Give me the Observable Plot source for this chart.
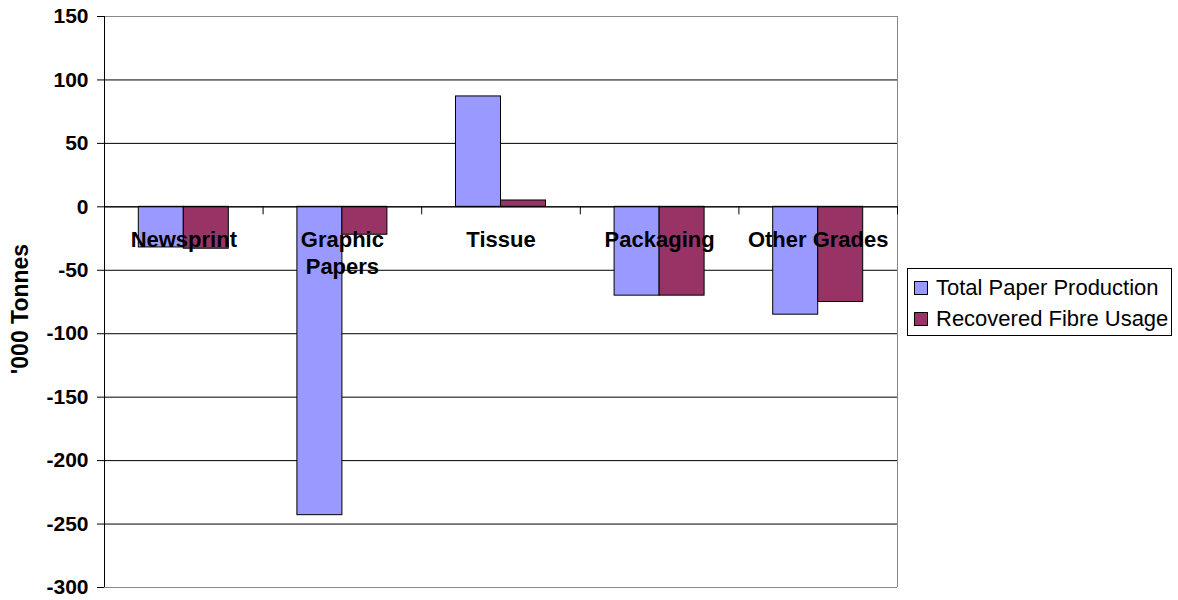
<!DOCTYPE html>
<html>
<head>
<meta charset="utf-8">
<script src="https://cdn.jsdelivr.net/npm/d3@7"></script>
<script src="https://cdn.jsdelivr.net/npm/@observablehq/plot@0.6"></script>
<style>
  body { margin: 0; background: #fff; font-family: "Liberation Sans", Arial, sans-serif; }
  #wrap { position: relative; width: 1178px; height: 600px; }
  #legend {
    position: absolute; left: 907px; top: 268px; width: 265px; height: 68px;
    border: 1px solid #000; box-sizing: border-box; background: #fff;
    font-size: 22px; color: #000; padding: 3px 0 0 6px;
  }
  .item { display: flex; align-items: center; height: 31px; white-space: nowrap; }
  .sw { width: 14px; height: 14px; border: 1px solid #000; margin-right: 8px; box-sizing: border-box; }
</style>
</head>
<body>
<div id="wrap"><div id="legend"></div></div>
<script>
// Change by paper grade, thousand tonnes
const categories = ["Newsprint", "Graphic\nPapers", "Tissue", "Packaging", "Other Grades"];
const seriesNames = ["Total Paper Production", "Recovered Fibre Usage"];
const totalProduction = [-32, -243, 87, -70, -85];
const recoveredFibre = [-33, -22, 5, -70, -75];
const yTicks = [150, 100, 50, 0, -50, -100, -150, -200, -250, -300];
const yLabel = "'000 Tonnes";
const colors = ["#9999FF", "#993366"];

const rows = categories.flatMap((c, i) => [
  {cat: c, idx: i, series: seriesNames[0], value: totalProduction[i]},
  {cat: c, idx: i, series: seriesNames[1], value: recoveredFibre[i]}
]);

const font = "Liberation Sans, Arial, sans-serif";
const bandPx = (1178 - 104 - 281) / categories.length;
const barPx = 45;
const edge = (bandPx - 2 * barPx) / 2;

// one rect per category band, inset to place the two series side by side
const bars = (s, left, right) => Plot.rectY(rows.filter(d => d.series === s), {
  x1: "idx", x2: d => d.idx + 1, y1: 0, y2: "value",
  fill: colors[seriesNames.indexOf(s)], stroke: "#000", strokeWidth: 1,
  insetLeft: left, insetRight: right
});

const chart = Plot.plot({
  width: 1178,
  height: 600,
  marginLeft: 104,
  marginRight: 281,
  marginTop: 16,
  marginBottom: 13,
  style: {fontFamily: font, background: "transparent"},
  x: {domain: [0, categories.length], axis: null},
  y: {domain: [-300, 150]},
  marks: [
    Plot.ruleY(yTicks.filter(v => v !== 150 && v !== -300), {stroke: "#000", strokeWidth: 1}),
    Plot.ruleY([150, -300], {stroke: "#888", strokeWidth: 1}),
    Plot.ruleX([categories.length], {stroke: "#888", strokeWidth: 1}),
    bars(seriesNames[0], edge, edge + barPx),
    bars(seriesNames[1], edge + barPx, edge),
    Plot.ruleY([0], {stroke: "#000", strokeWidth: 1}),
    Plot.ruleX(d3.range(categories.length + 1), {y1: 0, y2: 0, insetBottom: -8, stroke: "#000"}),
    Plot.ruleX([0], {stroke: "#000", strokeWidth: 1}),
    Plot.axisY({
      ticks: yTicks, tickSize: 7, tickPadding: 9, tickFormat: d => String(d),
      fontSize: 21, fontWeight: "bold", stroke: "#000", label: null
    }),
    Plot.text([yLabel], {
      frameAnchor: "left", rotate: -90, dx: -84, dy: 7,
      fontSize: 23, fontWeight: "bold", fill: "#000", textAnchor: "middle"
    }),
    Plot.text(categories, {
      x: (d, i) => i + 0.5, y: 0, text: d => d,
      dy: 21, lineAnchor: "top", lineHeight: 1.22,
      fontSize: 22, fontWeight: "bold", fill: "#000", textAnchor: "middle"
    })
  ]
});
document.getElementById("wrap").prepend(chart);

// Legend
const legend = document.getElementById("legend");
seriesNames.forEach((s, i) => {
  const item = document.createElement("div");
  item.className = "item";
  const sw = document.createElement("span");
  sw.className = "sw";
  sw.style.background = colors[i];
  item.appendChild(sw);
  item.appendChild(document.createTextNode(s));
  legend.appendChild(item);
});
</script>
</body>
</html>
